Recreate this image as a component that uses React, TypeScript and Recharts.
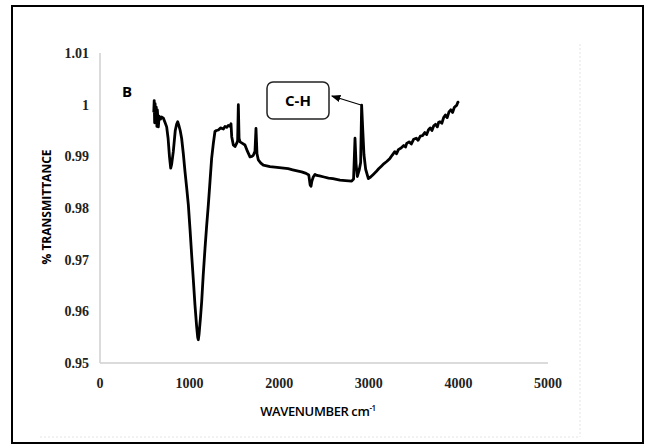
import React from "react"
import { LineChart, Line, XAxis, YAxis } from "recharts"

// [wavenumber cm-1, transmittance], by region
const fingerprint = [
  [600, 0.9985], [605, 1.0008], [610, 0.9965], [615, 1.0002], [622, 0.9975], [628, 0.9995],
  [635, 0.9958], [640, 0.999], [651, 0.9957], [660, 0.9978], [675, 0.9972], [690, 0.9976],
  [707, 0.9974], [725, 0.9966], [744, 0.9957], [760, 0.9935], [775, 0.99], [789, 0.9877],
  [800, 0.9885], [818, 0.9909], [840, 0.995], [855, 0.9962], [867, 0.9967], [880, 0.996],
]

const mainBand = [
  [895, 0.995], [911, 0.9935], [930, 0.9905], [949, 0.987], [968, 0.9838], [986, 0.9806],
  [1005, 0.9758], [1023, 0.9709], [1042, 0.966], [1060, 0.9612], [1078, 0.9572], [1090, 0.955],
  [1097, 0.9545], [1105, 0.9555], [1120, 0.9585], [1135, 0.9619], [1152, 0.967], [1172, 0.9722],
  [1190, 0.9765], [1209, 0.9806], [1228, 0.9852], [1246, 0.9896], [1265, 0.9925], [1283, 0.9948],
]

const midRange = [
  [1300, 0.995], [1321, 0.9951], [1345, 0.9955], [1377, 0.9953], [1395, 0.9958], [1414, 0.9956],
  [1432, 0.996], [1451, 0.9958], [1462, 0.9963], [1470, 0.9938], [1488, 0.9922], [1507, 0.9919],
  [1525, 0.9925], [1536, 0.993], [1544, 1.0], [1552, 0.9935], [1563, 0.9928], [1590, 0.9925],
  [1618, 0.9922], [1645, 0.991], [1674, 0.9899], [1695, 0.99], [1711, 0.9902], [1730, 0.991],
  [1741, 0.9954], [1752, 0.9905], [1767, 0.9893], [1795, 0.9887], [1823, 0.9883], [1897, 0.988],
  [1950, 0.9879], [2000, 0.9878], [2050, 0.9877], [2100, 0.9876], [2150, 0.9874], [2200, 0.9872],
  [2250, 0.987], [2300, 0.9867], [2330, 0.9864], [2345, 0.9845], [2355, 0.9842], [2365, 0.9852],
  [2380, 0.986], [2400, 0.9865], [2420, 0.9863], [2450, 0.9862], [2500, 0.986], [2550, 0.9858],
  [2600, 0.9857], [2678, 0.9854], [2740, 0.9853], [2809, 0.9852], [2830, 0.9856],
]

const chRegion = [
  [2846, 0.9935], [2858, 0.9885], [2872, 0.9861], [2895, 0.9875], [2909, 0.9888], [2920, 0.9999],
  [2933, 0.995], [2946, 0.9903], [2965, 0.9875], [2995, 0.9857], [3020, 0.986], [3050, 0.9865],
]

const highRange = [
  [3080, 0.987], [3110, 0.9876], [3140, 0.9881], [3170, 0.9886], [3200, 0.989], [3236, 0.9896],
  [3260, 0.9902], [3290, 0.9909], [3310, 0.9905], [3330, 0.9913], [3360, 0.9916], [3390, 0.9921],
  [3410, 0.9918], [3423, 0.9925], [3450, 0.9928], [3475, 0.9924], [3500, 0.9933], [3530, 0.9935],
  [3550, 0.9931], [3575, 0.9939], [3600, 0.994], [3625, 0.9946], [3646, 0.9942], [3665, 0.9951],
  [3685, 0.9955], [3705, 0.995], [3725, 0.9959], [3745, 0.9962], [3765, 0.9957], [3780, 0.9966],
  [3794, 0.9967], [3815, 0.9964], [3835, 0.9975], [3855, 0.998], [3875, 0.9975], [3895, 0.9986],
  [3915, 0.999], [3935, 0.9985], [3955, 0.9995], [3970, 0.9997], [3981, 0.9999], [3995, 1.0005],
  [4000, 1.0003],
]

const xTicks = [0, 1000, 2000, 3000, 4000, 5000]
const yTicks = [0.95, 0.96, 0.97, 0.98, 0.99, 1, 1.01]

const data = [...fingerprint, ...mainBand, ...midRange, ...chRegion, ...highRange].map(([w, t]) => ({ w, t }))

const tickStyle = {
  fontFamily: "'Liberation Serif', serif",
  fontWeight: 700,
  fontSize: 14,
  fill: "#222",
}

export default function App() {
  return (
    <div style={{ position: "absolute", left: 0, top: 0, width: 648, height: 446, background: "#fff" }}>
      <LineChart width={648} height={446} data={data} margin={{ top: 53, right: 100, bottom: 53, left: 40 }}>
        <XAxis
          dataKey="w"
          type="number"
          domain={[0, 5000]}
          ticks={xTicks}
          height={30}
          tickLine={false}
          tickMargin={9}
          axisLine={{ stroke: "#cfcfcf", strokeWidth: 1.5 }}
          tick={tickStyle}
        />
        <YAxis
          type="number"
          domain={[0.95, 1.01]}
          ticks={yTicks}
          width={60}
          tickLine={false}
          tickMargin={5}
          axisLine={{ stroke: "#cfcfcf", strokeWidth: 1.5 }}
          tick={tickStyle}
          allowDataOverflow
        />
        <Line
          dataKey="t"
          type="linear"
          stroke="#000"
          strokeWidth={2.8}
          strokeLinejoin="round"
          dot={false}
          isAnimationActive={false}
        />
      </LineChart>
      <svg
        width={648}
        height={446}
        style={{ position: "absolute", left: 0, top: 0, pointerEvents: "none" }}
      >
        <defs>
          <marker id="ah" markerWidth="8" markerHeight="8" refX="7" refY="4" orient="auto">
            <path d="M0,1 L8,4 L0,7 Z" fill="#000" />
          </marker>
        </defs>
        <rect x={12} y={6} width={631} height={437} fill="none" stroke="#000" strokeWidth={2} />
        <line x1={580} y1={44} x2={580} y2={437} stroke="#e4e4e4" strokeDasharray="2 2" />
        <line x1={40} y1={437} x2={580} y2={437} stroke="#e4e4e4" strokeDasharray="2 2" />
        <text x={127} y={97} textAnchor="middle" fontFamily="'Open Sans', sans-serif" fontWeight={700} fontSize={15}>
          B
        </text>
        <rect x={267} y={82} width={62} height={37} rx={6} fill="#fff" stroke="#222" strokeWidth={1.5} />
        <text x={298} y={106} textAnchor="middle" fontFamily="'Open Sans', sans-serif" fontWeight={700} fontSize={15}>
          C-H
        </text>
        <line x1={361} y1={105} x2={332} y2={96} stroke="#000" strokeWidth={1.2} markerEnd="url(#ah)" />
        <text
          x={48}
          y={207}
          transform="rotate(-90 48 207)"
          textAnchor="middle"
          dominantBaseline="middle"
          fontFamily="'Open Sans', sans-serif"
          fontWeight={700}
          fontSize={12}
        >
          % TRANSMITTANCE
        </text>
        <text
          x={318}
          y={416}
          textAnchor="middle"
          fontFamily="'Open Sans', sans-serif"
          fontWeight={600}
          fontSize={13}
          letterSpacing={-0.4}
        >
          WAVENUMBER cm
          <tspan fontSize={8} dy={-5}>-1</tspan>
        </text>
      </svg>
    </div>
  )
}
